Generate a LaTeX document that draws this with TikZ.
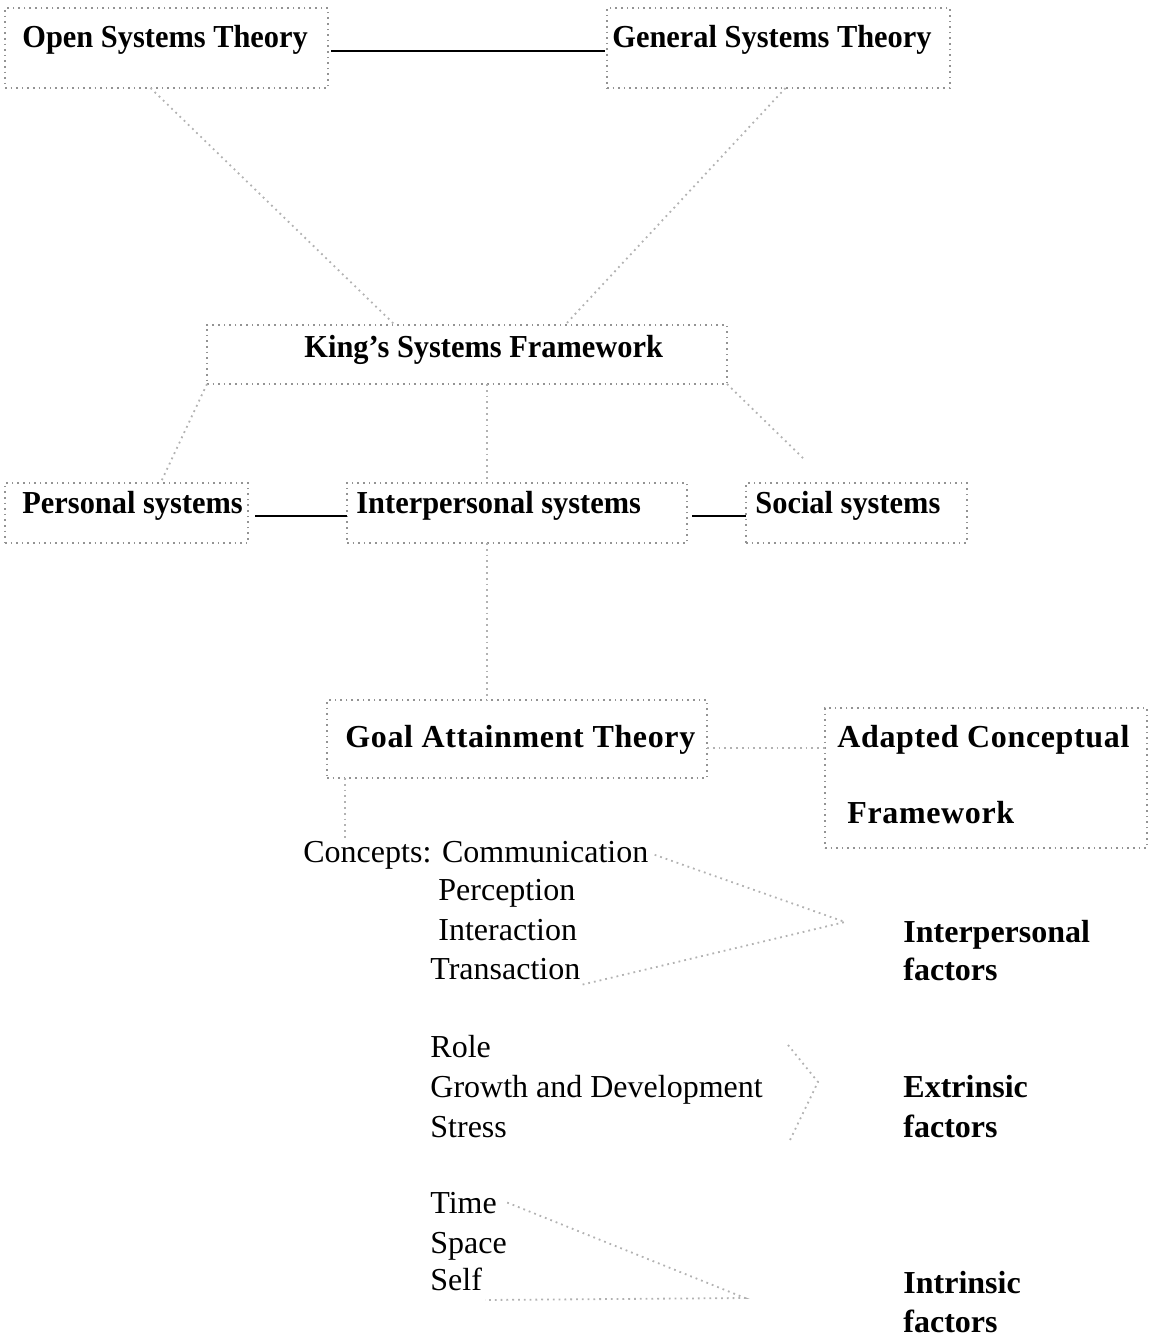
\documentclass[tikz,border=0pt]{standalone}
\usepackage{fontspec}
\setmainfont{Liberation Serif}
\newfontfamily\narrowserif[FakeStretch=0.95]{Liberation Serif}
\newfontfamily\spacedserif[LetterSpace=2.0]{Liberation Serif}
\usetikzlibrary{fit,calc}

\begin{document}
\begin{tikzpicture}[x=0.5pt,y=-0.5pt,
    box/.style={draw=gray!85,dotted,line width=0.8pt,rectangle,inner sep=0pt,outer sep=0pt},
    link/.style={draw=gray!60,dotted,line width=0.9pt},
    rule/.style={draw=black,line width=1.3pt},
    lbl/.style={font=\bfseries\fontsize{16}{19}\selectfont,anchor=base west,inner sep=0pt},
    toplbl/.style={lbl,font=\narrowserif\bfseries\fontsize{16}{19}\selectfont},
    widelbl/.style={lbl,font=\spacedserif\bfseries\fontsize{16}{19}\selectfont},
    plain/.style={font=\fontsize{16}{19}\selectfont,anchor=base west,inner sep=0pt}]
    \useasboundingbox (0,0) rectangle (1150,1337);
    \begin{scope}[every node/.style={box}]
        \node[fit={(5,8) (328,88)}] (osBox) {};
        \node[fit={(607,8) (950,88)}] (gsBox) {};
        \node[fit={(207,325) (727,384)}] (ksBox) {};
        \node[fit={(5,483) (248,543)}] (psBox) {};
        \node[fit={(347,483) (687,543)}] (isBox) {};
        \node[fit={(746,483) (967,543)}] (ssBox) {};
        \node[fit={(327,700) (707,778)}] (gaBox) {};
        \node[fit={(825,708) (1147,848)}] (acBox) {};
    \end{scope}
    \node[toplbl] (osText) at (22,48) {Open Systems Theory};
    \node[toplbl] (gsText) at (612,48) {General Systems Theory};
    \node[toplbl] (ksText) at (304,357) {King’s Systems Framework};
    \node[toplbl] (psText) at (22,513) {Personal systems};
    \node[toplbl] (isText) at (356,513) {Interpersonal systems};
    \node[toplbl] (ssText) at (755,513) {Social systems};
    \node[widelbl] (gaText) at (345,747) {Goal Attainment Theory};
    \node[widelbl] (acText) at (837,747) {Adapted Conceptual};
    \node[widelbl] (fwText) at (847,823) {Framework};
    \node[plain] (ccText) at (303,862) {Concepts: Communication};
    \node[plain] (peText) at (438,900) {Perception};
    \node[plain] (inText) at (438,940) {Interaction};
    \node[plain] (trText) at (430,979) {Transaction};
    \node[lbl] (ipText) at (903,942) {Interpersonal};
    \node[lbl] (ipFact) at (903,980) {factors};
    \node[plain] (roText) at (430,1057) {Role};
    \node[plain] (grText) at (430,1097) {Growth and Development};
    \node[plain] (stText) at (430,1137) {Stress};
    \node[lbl] (exText) at (903,1097) {Extrinsic};
    \node[lbl] (exFact) at (903,1137) {factors};
    \node[plain] (tmText) at (430,1213) {Time};
    \node[plain] (spText) at (430,1253) {Space};
    \node[plain] (sfText) at (430,1290) {Self};
    \node[lbl] (itText) at (903,1293) {Intrinsic};
    \node[lbl] (itFact) at (903,1332) {factors};
    \coordinate (ipTip) at (845,922);
    \coordinate (exA) at (788,1045);
    \coordinate (exTip) at (818,1082);
    \coordinate (exB) at (790,1140);
    \coordinate (itTip) at (745,1298);
    \coordinate (itEnd) at (485,1300);
    \coordinate (gaFoot) at ($(gaBox.south west)+(18,0)$);
    \draw[rule] ($(osBox.east)+(3,3)$) -- ($(gsBox.west)+(-2,3)$);
    \draw[rule] ($(psBox.east)+(7,3)$) -- ($(isBox.west)+(0,3)$);
    \draw[rule] ($(isBox.east)+(5,3)$) -- ($(ssBox.west)+(0,3)$);
    \draw[link] ($(osBox.south)+(-16,0)$) -- ($(ksBox.north)+(-72,0)$);
    \draw[link] ($(gsBox.south)+(7,0)$) -- ($(ksBox.north)+(98,0)$);
    \draw[link] (ksBox.south west) -- ($(psBox.north)+(34,0)$);
    \draw[link] ($(ksBox.south)+(20,0)$) -- ($(isBox.north)+(-30,0)$);
    \draw[link] (ksBox.south east) -- ($(ssBox.north west)+(59,-23)$);
    \draw[link] ($(isBox.south)+(-30,0)$) -- ($(gaBox.north)+(-30,0)$);
    \draw[link] ($(gaBox.east)+(0,9)$) -- ($(gaBox.east -| acBox.west)+(0,9)$);
    \draw[link] (gaFoot) -- (gaFoot |- ccText.north);
    \draw[link] ($(ccText.east)+(6,0)$) -- (ipTip) -- ($(trText.base east)+(0,6)$);
    \draw[link] (exA) -- (exTip) -- (exB);
    \draw[link] ($(tmText.east)+(10,0)$) -- (itTip) -- (itEnd);
\end{tikzpicture}
\end{document}
